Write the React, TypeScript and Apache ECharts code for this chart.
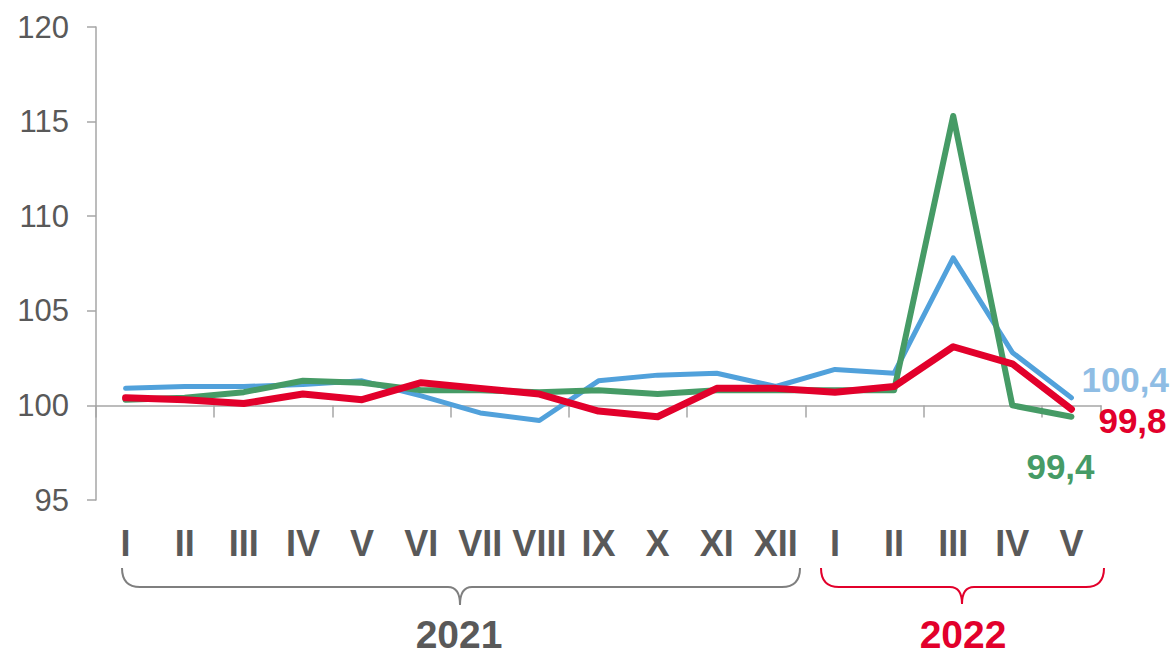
import React, { useEffect, useRef } from "react";
import * as echarts from "echarts";

// ---- data ----
const MONTHS = ["I", "II", "III", "IV", "V", "VI", "VII", "VIII", "IX", "X", "XI", "XII", "I", "II", "III", "IV", "V"];
const YEAR_OF = [2021, 2021, 2021, 2021, 2021, 2021, 2021, 2021, 2021, 2021, 2021, 2021, 2022, 2022, 2022, 2022, 2022];
const BLUE = [100.9, 101.0, 101.0, 101.1, 101.3, 100.5, 99.6, 99.2, 101.3, 101.6, 101.7, 101.0, 101.9, 101.7, 107.8, 102.8, 100.4];
const GREEN = [100.3, 100.4, 100.7, 101.3, 101.2, 100.8, 100.8, 100.7, 100.8, 100.6, 100.8, 100.8, 100.8, 100.8, 115.3, 100.0, 99.4];
const RED = [100.4, 100.3, 100.1, 100.6, 100.3, 101.2, 100.9, 100.6, 99.7, 99.4, 100.9, 100.9, 100.7, 101.0, 103.1, 102.2, 99.8];
const Y_MIN = 95;
const Y_MAX = 120;
const Y_STEP = 5;
const BASE = 100;
const YEARS = ["2021", "2022"];

const FONT = 'Arial, "Liberation Sans", Helvetica, sans-serif';
const GRAY = "#595959";
const C_BLUE = "#51a1db";
const C_BLUE_LABEL = "#8fbde4";
const C_GREEN = "#469b66";
const C_RED = "#e2002b";

const fmt = (v: number) => v.toFixed(1).replace(".", ",");
const categories = MONTHS.map((m, i) => `${YEAR_OF[i]}-${m}`);
const rel = (arr: number[]) => arr.map((v) => +(v - BASE).toFixed(2));

const Brace = echarts.graphic.extendShape({
  type: "brace",
  shape: { x1: 0, x2: 0, cx: 0, y0: 0, y1: 0, y2: 0, r: 18, c: 12 },
  buildPath(ctx: any, s: any) {
    ctx.moveTo(s.x1, s.y0);
    ctx.quadraticCurveTo(s.x1, s.y1, s.x1 + s.r, s.y1);
    ctx.lineTo(s.cx - s.c, s.y1);
    ctx.quadraticCurveTo(s.cx, s.y1, s.cx, s.y2);
    ctx.moveTo(s.cx, s.y2);
    ctx.quadraticCurveTo(s.cx, s.y1, s.cx + s.c, s.y1);
    ctx.lineTo(s.x2 - s.r, s.y1);
    ctx.quadraticCurveTo(s.x2, s.y1, s.x2, s.y0);
  },
});
echarts.graphic.registerShape("brace", Brace);

export default function App() {
  const ref = useRef<HTMLDivElement>(null);
  useEffect(() => {
    document.body.style.margin = "0";
    const chart = echarts.init(ref.current!, undefined, { renderer: "svg" });
    const lineSeries = (name: string, data: number[], color: string, width: number, labelColor: string, offset: number[]) => ({
      name,
      type: "line",
      data: rel(data),
      symbol: "none",
      xAxisIndex: 0,
      yAxisIndex: 0,
      lineStyle: { color, width, cap: "round", join: "round" },
      endLabel: {
        show: true,
        distance: 5,
        offset,
        formatter: () => fmt(data[data.length - 1]),
        color: labelColor,
        fontFamily: FONT,
        fontWeight: "bold",
        fontSize: 35,
      },
    });
    chart.setOption({
      animation: false,
      grid: { left: 96, right: 72, top: 27, bottom: 155, containLabel: false },
      xAxis: [
        {
          type: "category",
          data: categories,
          boundaryGap: true,
          axisLine: { onZero: true, lineStyle: { color: "#a6a6a6", width: 1.5 } },
          axisTick: { show: true, length: 12, lineStyle: { color: "#a6a6a6", width: 1.5 } },
          axisLabel: { show: false },
          splitLine: { show: false },
        },
        {
          type: "category",
          data: categories,
          position: "bottom",
          boundaryGap: true,
          axisLine: { show: false, onZero: false },
          axisTick: { show: false },
          axisLabel: {
            show: true,
            interval: 0,
            margin: 25,
            color: GRAY,
            fontFamily: FONT,
            fontWeight: "bold",
            fontSize: 36,
            formatter: (v: string) => v.split("-")[1],
          },
          splitLine: { show: false },
        },
      ],
      yAxis: {
        type: "value",
        min: Y_MIN - BASE,
        max: Y_MAX - BASE,
        interval: Y_STEP,
        axisLine: { show: true, lineStyle: { color: "#a6a6a6", width: 1.5 } },
        axisTick: { show: true, length: 9, lineStyle: { color: "#a6a6a6", width: 1.5 } },
        axisLabel: {
          margin: 27,
          color: GRAY,
          fontFamily: FONT,
          fontSize: 31,
          formatter: (v: number) => String(v + BASE),
        },
        splitLine: { show: false },
      },
      series: [
        lineSeries("blue", BLUE, C_BLUE, 5, C_BLUE_LABEL, [5, -18]),
        lineSeries("green", GREEN, C_GREEN, 6, C_GREEN, [-50, 50]),
        lineSeries("red", RED, C_RED, 7, C_RED, [22, 11]),
      ],
      graphic: [
        {
          type: "brace",
          shape: { x1: 122, x2: 800, cx: 460, y0: 568, y1: 587, y2: 605, r: 18, c: 12 },
          style: { stroke: "#7f7f7f", lineWidth: 2, fill: "none" },
        },
        {
          type: "brace",
          shape: { x1: 821, x2: 1104, cx: 962, y0: 568, y1: 587, y2: 604, r: 18, c: 12 },
          style: { stroke: C_RED, lineWidth: 2, fill: "none" },
        },
        {
          type: "text",
          x: 459,
          y: 634,
          style: { text: YEARS[0], fill: GRAY, font: `bold 39px ${FONT}`, textAlign: "center", textVerticalAlign: "middle" },
        },
        {
          type: "text",
          x: 963,
          y: 634,
          style: { text: YEARS[1], fill: C_RED, font: `bold 39px ${FONT}`, textAlign: "center", textVerticalAlign: "middle" },
        },
      ],
    });
    return () => chart.dispose();
  }, []);
  return <div ref={ref} style={{ position: "absolute", left: 0, top: 0, width: 1173, height: 655 }} />;
}
